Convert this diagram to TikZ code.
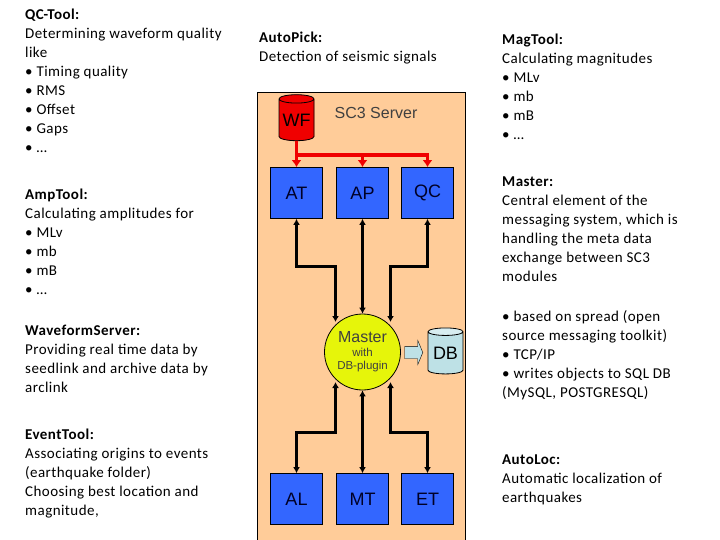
\documentclass[tikz,border=0pt]{standalone}
\usepackage{fontspec}
\setmainfont[LetterSpace=3]{Carlito}
\setsansfont{Liberation Sans}
\usetikzlibrary{shapes,arrows,arrows.meta,positioning,calc}
\definecolor{server}{RGB}{255,204,153}
\definecolor{toolblue}{RGB}{51,102,255}
\definecolor{master}{RGB}{230,245,10}
\definecolor{wfred}{RGB}{240,0,0}
\definecolor{dbcyan}{RGB}{190,225,230}

\begin{document}
\begin{tikzpicture}[
    x=1pt, y=-1pt,
    tool/.style={rectangle, draw=black, fill=toolblue, thick, minimum width=52pt, minimum height=51pt, inner sep=0pt, font=\sffamily\fontsize{18}{18}\selectfont, text=black!85!blue},
    info/.style={anchor=north west, inner sep=0pt, align=left, font=\fontsize{15}{19}\selectfont, text=black},
    store/.style={cylinder, shape border rotate=90, aspect=0.3, draw=black, thick, minimum width=35pt, minimum height=46pt, inner sep=0pt, font=\sffamily\fontsize{18}{18}\selectfont},
    link/.style={<->, >={Latex[length=6pt,width=7pt]}, line width=2.6pt},
    feed/.style={->, >={Latex[length=7pt,width=10pt]}, line width=3.5pt, draw=wfred}
]
    \useasboundingbox (0,0) rectangle (720,540);

    % Server area
    \path[draw=black, fill=server, thick] (257,92) -- (465,92) -- (465,541) -- (257,541) -- cycle;
    \node[font=\sffamily\fontsize{16}{16}\selectfont, text=black!75] (title) at (376,113) {SC3 Server};

    % Stores
    \node[store, fill=wfred, cylinder uses custom fill, cylinder body fill=wfred, cylinder end fill=wfred!60!white] (wf) at (296.5,120) {WF};
    \node[store, cylinder uses custom fill, cylinder body fill=dbcyan, cylinder end fill=dbcyan!60!white] (db) at (445.5,353) {DB};

    % Tools
    \node[tool] (at) at (296.5,193) {AT};
    \node[tool] (ap) at (362.5,193) {AP};
    \node[tool] (qc) at (427.5,193) {QC};
    \node[tool] (al) at (296.5,499) {AL};
    \node[tool] (mt) at (362.5,499) {MT};
    \node[tool] (et) at (427.5,499) {ET};

    % Master
    \node[circle, draw=black, fill=master, thick, minimum size=76pt, inner sep=0pt, align=center, font=\sffamily, text=black!75] (hub) at (362.5,352)
        {{\fontsize{16}{18}\selectfont Master}\\[2pt]{\fontsize{11.5}{14}\selectfont with}\\[1pt]{\fontsize{11.5}{14}\selectfont DB-plugin}};

    % Waveform feed
    \coordinate (split) at (296.5,155);
    \draw[feed] (wf) -- (at);
    \draw[feed] (split) -| (ap);
    \draw[feed] (split) -| (qc);

    % Messaging
    \coordinate (hubnw) at (335.5,322);
    \coordinate (hubne) at (390.5,322);
    \coordinate (hubsw) at (335.5,382);
    \coordinate (hubse) at (390.5,382);
    \coordinate (uppersplit) at (296.5,266.5);
    \coordinate (lowersplit) at (296.5,432.5);
    \draw[link] (at) -- (uppersplit) -| (hubnw);
    \draw[link] (ap) -- (hub);
    \draw[link] (qc) -- (427.5,266.5) -| (hubne);
    \draw[link] (hubsw) |- (lowersplit) -- (al);
    \draw[link] (hub) -- (mt);
    \draw[link] (hubse) |- (427.5,432.5) -- (et);

    % Arrow to database
    \coordinate (dbin) at (423,352.5);
    \node[single arrow, draw=black, fill=dbcyan, minimum width=24pt, minimum height=18pt, single arrow head extend=6pt, single arrow tip angle=135, inner xsep=0pt, inner ysep=6pt, anchor=tip] (store) at (dbin) {};

    % Left column
    \node[info] (qctool) at (25,9) {\textbf{QC-Tool:}\\Determining waveform quality\\like\\• Timing quality\\• RMS\\• Offset\\• Gaps\\• …};
    \node[info] (amptool) at (25,189) {\textbf{AmpTool:}\\Calculating amplitudes for\\• MLv\\• mb\\• mB\\• …};
    \node[info] (wftool) at (25,325) {\textbf{WaveformServer:}\\Providing real time data by\\seedlink and archive data by\\arclink};
    \node[info] (eventtool) at (25,429) {\textbf{EventTool:}\\Associating origins to events\\(earthquake folder)\\Choosing best location and\\magnitude,};

    % Middle top
    \node[info] (autopick) at (259,32) {\textbf{AutoPick:}\\Detection of seismic signals};

    % Right column
    \node[info] (magtool) at (502,34) {\textbf{MagTool:}\\Calculating magnitudes\\• MLv\\• mb\\• mB\\• …};
    \node[info] (mastertext) at (502,177) {\textbf{Master:}\\Central element of the\\messaging system, which is\\handling the meta data\\exchange between SC3\\modules};
    \node[info] (spreadtext) at (502,310) {• based on spread (open\\source messaging toolkit)\\• TCP/IP\\• writes objects to SQL DB\\(MySQL, POSTGRESQL)};
    \node[info] (autoloc) at (502,455) {\textbf{AutoLoc:}\\Automatic localization of\\earthquakes};
\end{tikzpicture}
\end{document}
